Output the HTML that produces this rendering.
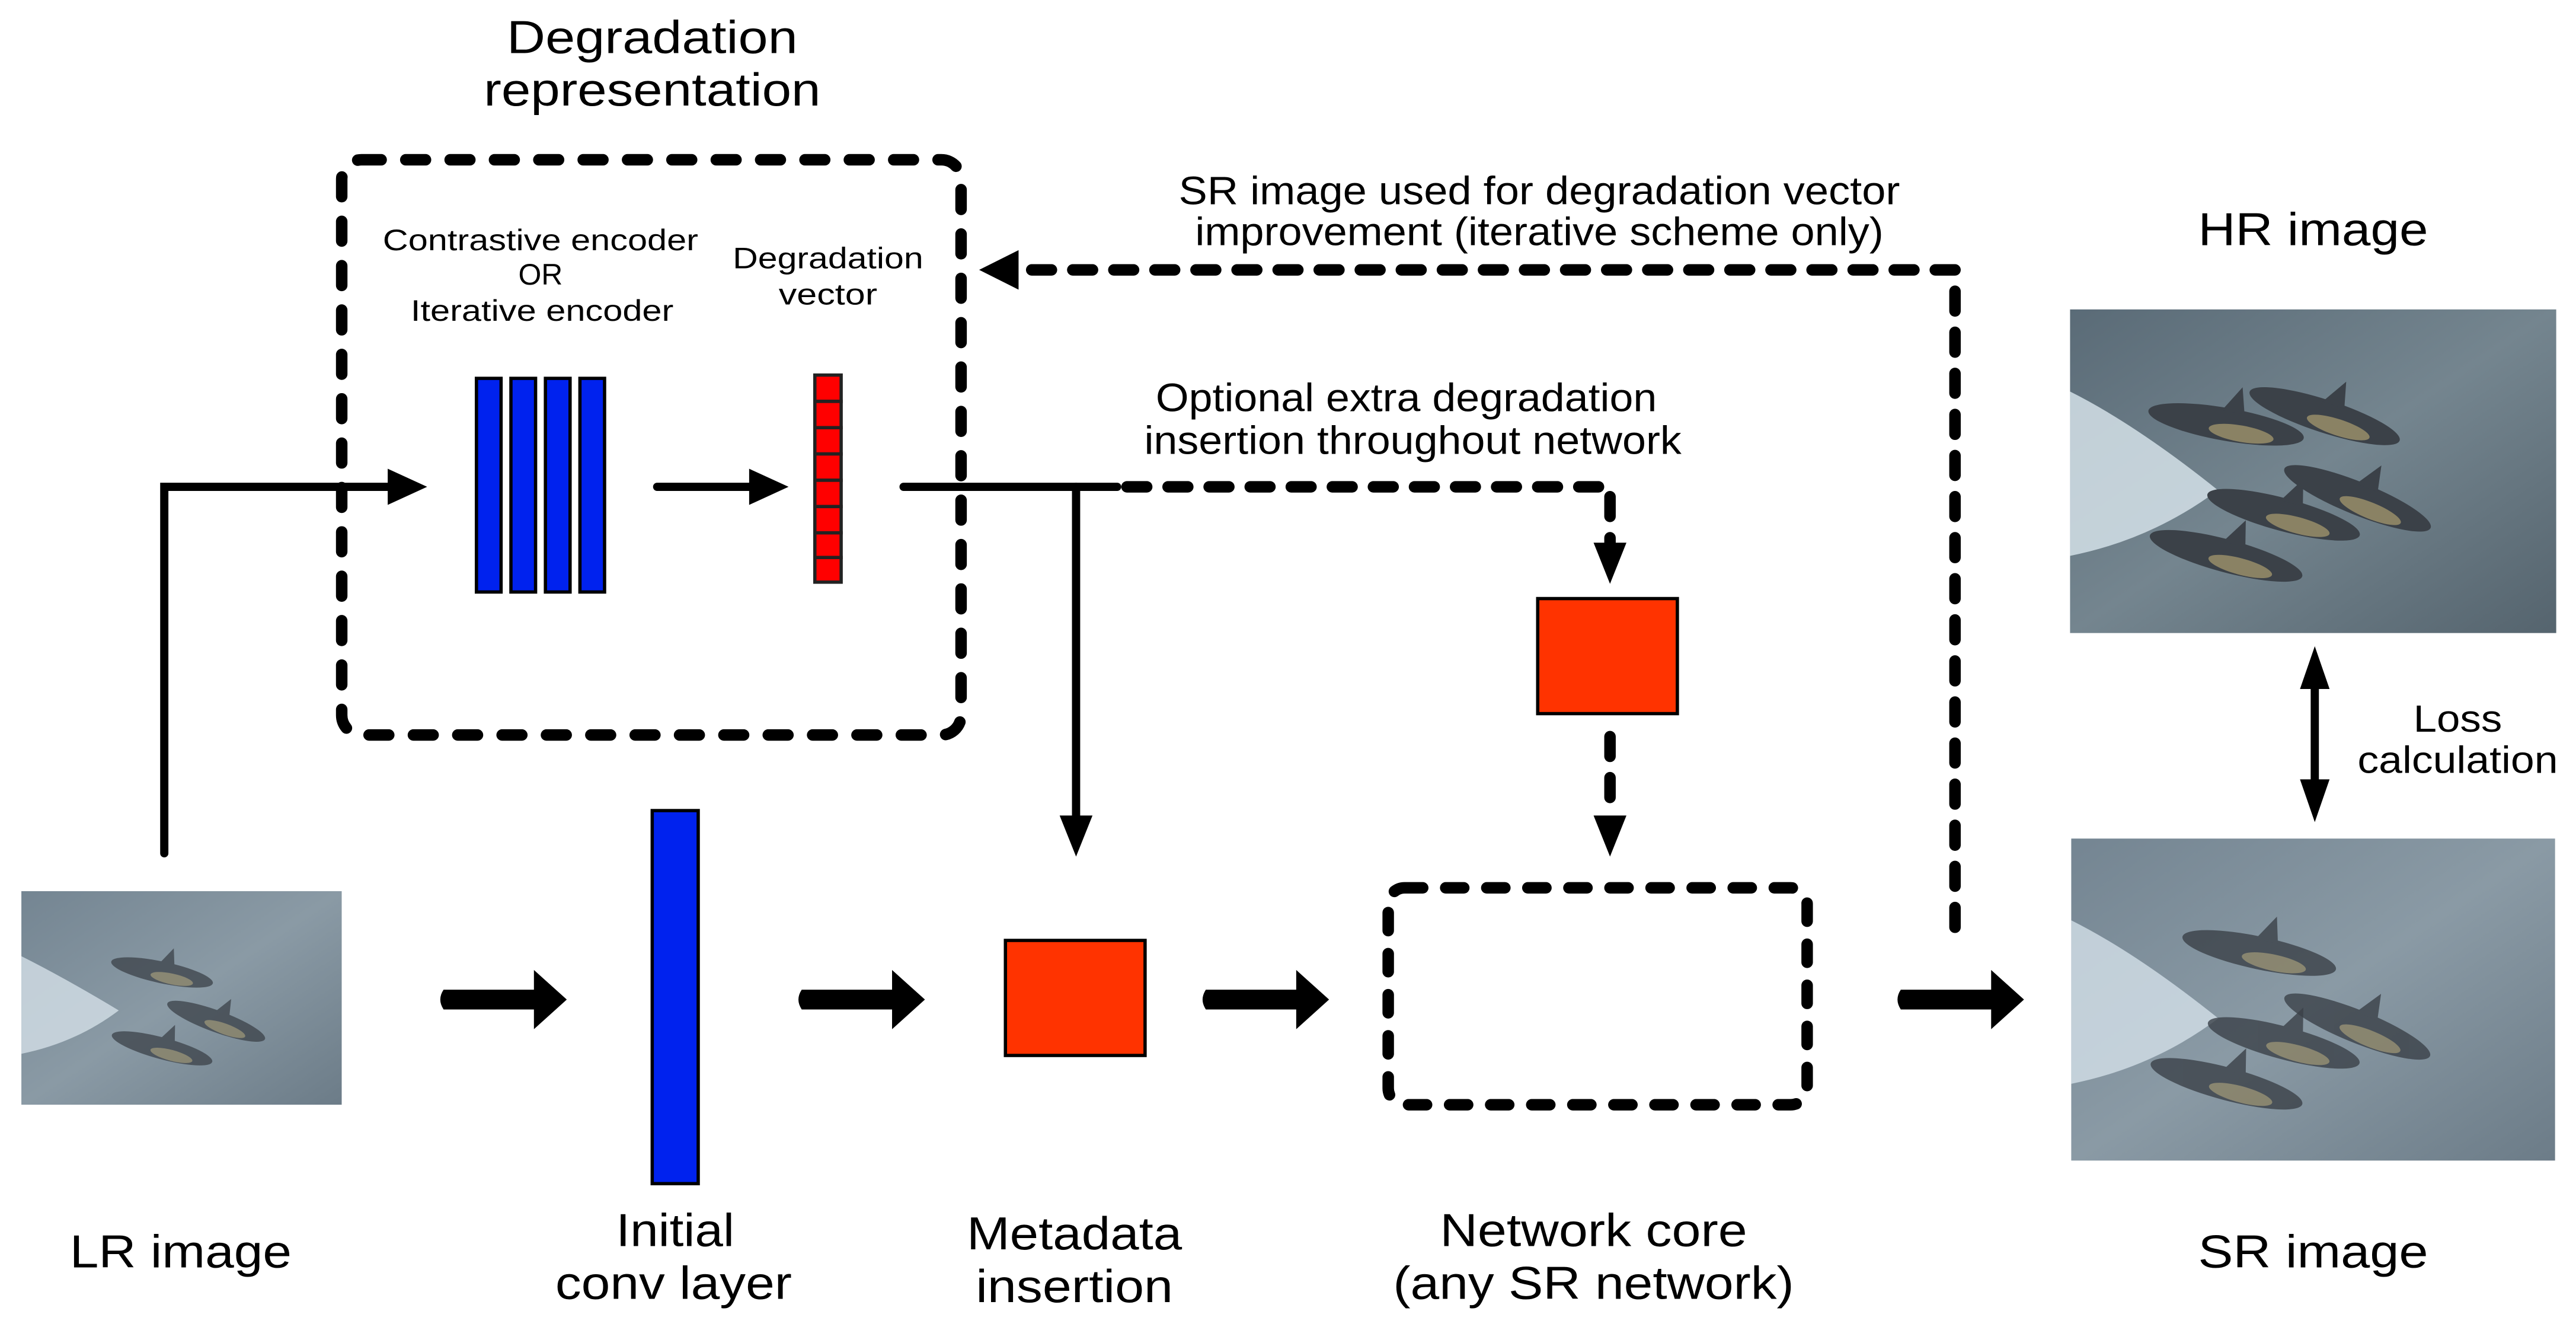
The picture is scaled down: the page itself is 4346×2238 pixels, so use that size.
<!DOCTYPE html>
<html><head><meta charset="utf-8"><style>html,body{margin:0;padding:0;background:#fff}svg{display:block}</style></head>
<body>
<svg xmlns="http://www.w3.org/2000/svg" width="4346" height="2238" viewBox="0 0 1568 807">
<defs>
<linearGradient id="sea" x1="0" y1="0" x2="1" y2="1">
<stop offset="0" stop-color="#5a6b77"/><stop offset="0.5" stop-color="#74858f"/><stop offset="1" stop-color="#55646e"/></linearGradient>
<linearGradient id="seab" x1="0" y1="0" x2="1" y2="1">
<stop offset="0" stop-color="#748592"/><stop offset="0.5" stop-color="#8a9aa5"/><stop offset="1" stop-color="#6c7c88"/></linearGradient>
<g id="dol">
<ellipse cx="0" cy="0" rx="48" ry="10" fill="#3b4148"/>
<ellipse cx="10" cy="4" rx="20" ry="5" fill="#8a8264"/>
<path d="M-4,-8 L6,-24 L10,-8 Z" fill="#3b4148"/>
</g>
</defs>
<rect width="1568" height="807" fill="#fff"/>
<g font-family="'Liberation Sans Narrow','Liberation Sans',sans-serif" fill="#000" text-anchor="middle">
<text x="397" y="32" font-size="28" textLength="177" lengthAdjust="spacingAndGlyphs">Degradation</text>
<text x="397" y="64" font-size="28" textLength="205" lengthAdjust="spacingAndGlyphs">representation</text>
<text x="329" y="152" font-size="18" textLength="192" lengthAdjust="spacingAndGlyphs">Contrastive encoder</text>
<text x="329" y="173" font-size="18" textLength="27" lengthAdjust="spacingAndGlyphs">OR</text>
<text x="330" y="195" font-size="18" textLength="160" lengthAdjust="spacingAndGlyphs">Iterative encoder</text>
<text x="504" y="163" font-size="18" textLength="116" lengthAdjust="spacingAndGlyphs">Degradation</text>
<text x="504" y="185" font-size="18" textLength="60" lengthAdjust="spacingAndGlyphs">vector</text>
<text x="937" y="124" font-size="24" textLength="439" lengthAdjust="spacingAndGlyphs">SR image used for degradation vector</text>
<text x="937" y="149" font-size="24" textLength="419" lengthAdjust="spacingAndGlyphs">improvement (iterative scheme only)</text>
<text x="856" y="250" font-size="24" textLength="305" lengthAdjust="spacingAndGlyphs">Optional extra degradation</text>
<text x="860" y="276" font-size="24" textLength="327" lengthAdjust="spacingAndGlyphs">insertion throughout network</text>
<text x="1408" y="149" font-size="28" textLength="140" lengthAdjust="spacingAndGlyphs">HR image</text>
<text x="1496" y="445" font-size="23" textLength="54" lengthAdjust="spacingAndGlyphs">Loss</text>
<text x="1496" y="470" font-size="23" textLength="122" lengthAdjust="spacingAndGlyphs">calculation</text>
<text x="110" y="771" font-size="28" textLength="135" lengthAdjust="spacingAndGlyphs">LR image</text>
<text x="1408" y="771" font-size="28" textLength="140" lengthAdjust="spacingAndGlyphs">SR image</text>
<text x="411" y="758" font-size="28" textLength="72" lengthAdjust="spacingAndGlyphs">Initial</text>
<text x="410" y="790" font-size="28" textLength="144" lengthAdjust="spacingAndGlyphs">conv layer</text>
<text x="654" y="760" font-size="28" textLength="131" lengthAdjust="spacingAndGlyphs">Metadata</text>
<text x="654" y="792" font-size="28" textLength="120" lengthAdjust="spacingAndGlyphs">insertion</text>
<text x="970" y="758" font-size="28" textLength="187" lengthAdjust="spacingAndGlyphs">Network core</text>
<text x="970" y="790" font-size="28" textLength="244" lengthAdjust="spacingAndGlyphs">(any SR network)</text>
</g>
<rect x="208" y="97" width="377" height="350" rx="12" fill="none" stroke="#000" stroke-width="7" stroke-dasharray="12 15" stroke-linecap="round"/>
<rect x="845" y="540" width="255" height="132" rx="10" fill="none" stroke="#000" stroke-width="7" stroke-dasharray="11 14" stroke-linecap="round"/>
<g fill="#0022ee" stroke="#000" stroke-width="2">
<rect x="290" y="230" width="15" height="130"/><rect x="311" y="230" width="15" height="130"/>
<rect x="332" y="230" width="15" height="130"/><rect x="353" y="230" width="15" height="130"/>
<rect x="397" y="493" width="28" height="227"/>
</g>
<g fill="#ff0000" stroke="#222" stroke-width="2">
<rect x="496" y="228" width="16" height="16"/><rect x="496" y="244" width="16" height="16"/>
<rect x="496" y="260" width="16" height="16"/><rect x="496" y="276" width="16" height="16"/>
<rect x="496" y="292" width="16" height="16"/><rect x="496" y="308" width="16" height="16"/>
<rect x="496" y="324" width="16" height="15"/><rect x="496" y="339" width="16" height="15"/>
</g>
<g fill="#ff3300" stroke="#000" stroke-width="2">
<rect x="936" y="364" width="85" height="70"/>
<rect x="612" y="572" width="85" height="70"/>
</g>
<g fill="none" stroke="#000" stroke-width="5" stroke-linecap="round">
<path d="M100,519 L100,296 L240,296"/>
<path d="M400,296 L460,296"/>
<path d="M550,296 L680,296"/>
<path d="M655,296 L655,500"/>
<path d="M1409,415 L1409,478"/>
</g>
<g fill="#000">
<path d="M236,285 L260,296 L236,307 Z"/>
<path d="M456,285 L480,296 L456,307 Z"/>
<path d="M645,496 L655,521 L665,496 Z"/>
<path d="M1400,419 L1409,393 L1418,419 Z"/>
<path d="M1400,474 L1409,500 L1418,474 Z"/>
<path d="M970,330 L980,355 L990,330 Z"/>
<path d="M970,496 L980,521 L990,496 Z"/>
<path d="M620,152 L596,164 L620,176 Z"/>
</g>
<g fill="none" stroke="#000" stroke-width="7" stroke-linecap="round" stroke-dasharray="12 13">
<path d="M686,296 L980,296 L980,330"/>
<path d="M980,448 L980,496"/>
<path d="M1190,564 L1190,164 L618,164"/>
</g>
<g fill="#000">
<path d="M270,602 L325,602 L325,590 L345,608 L325,626 L325,614 L270,614 Q266,608 270,602 Z"/>
<path d="M488,602 L543,602 L543,590 L563,608 L543,626 L543,614 L488,614 Q484,608 488,602 Z"/>
<path d="M734,602 L789,602 L789,590 L809,608 L789,626 L789,614 L734,614 Q730,608 734,602 Z"/>
<path d="M1157,602 L1212,602 L1212,590 L1232,608 L1212,626 L1212,614 L1157,614 Q1153,608 1157,602 Z"/>
</g>
<svg x="13" y="542" width="195" height="130" viewBox="0 0 296 197" preserveAspectRatio="none">
<rect width="296" height="197" fill="url(#seab)"/>
<path d="M0,60 Q40,80 90,110 Q50,140 0,150 Z" fill="#cfdbe3" opacity="0.85"/>
<use href="#dol" transform="translate(130,75) rotate(12)" opacity="0.75"/>
<use href="#dol" transform="translate(180,120) rotate(20)" opacity="0.75"/>
<use href="#dol" transform="translate(130,145) rotate(15)" opacity="0.75"/>
</svg>
<svg x="1260" y="188" width="296" height="197" viewBox="0 0 296 197">
<rect width="296" height="197" fill="url(#sea)"/>
<path d="M0,50 Q40,70 90,110 Q50,140 0,150 Z" fill="#d3e0e8" opacity="0.85"/>
<use href="#dol" transform="translate(95,70) rotate(10)"/>
<use href="#dol" transform="translate(155,65) rotate(18)"/>
<use href="#dol" transform="translate(175,115) rotate(22)"/>
<use href="#dol" transform="translate(130,125) rotate(15)"/>
<use href="#dol" transform="translate(95,150) rotate(15)"/>
</svg>
<svg x="1260" y="510" width="296" height="196" viewBox="0 0 296 197">
<rect width="296" height="197" fill="url(#seab)"/>
<path d="M0,50 Q40,70 90,110 Q50,140 0,150 Z" fill="#d3e0e8" opacity="0.8"/>
<use href="#dol" transform="translate(115,70) rotate(12)" opacity="0.8"/>
<use href="#dol" transform="translate(175,115) rotate(22)" opacity="0.8"/>
<use href="#dol" transform="translate(130,125) rotate(15)" opacity="0.8"/>
<use href="#dol" transform="translate(95,150) rotate(15)" opacity="0.8"/>
</svg>
</svg>
</body></html>
